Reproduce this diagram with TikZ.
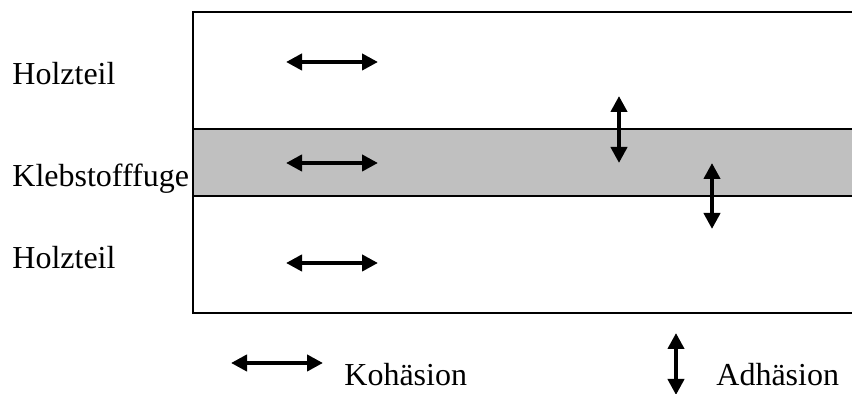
\documentclass[tikz,border=0pt]{standalone}
\usepackage{fontspec}
\setmainfont{Liberation Serif}
\usetikzlibrary{arrows.meta}
\definecolor{fugegray}{HTML}{C0C0C0}

\begin{document}
\begin{tikzpicture}[
  x=0.5pt, y=-0.5pt,
  lbl/.style={anchor=base west, inner sep=0pt, font=\fontsize{16}{19}\selectfont},
  frame/.style={line width=1pt, black},
  arr/.style={{Triangle[length=8pt,width=8pt]}-{Triangle[length=8pt,width=8pt]}, line width=2.4pt}]
  \useasboundingbox (0,0) rectangle (852,394);
  % Klebstofffuge band and wood parts
  \fill[fugegray] (193,129) rectangle (852,196);
  \draw[frame] (852,12) -| (193,313) -- (852,313);
  \draw[frame] (193,129) -- (852,129);
  \draw[frame] (193,196) -- (852,196);
  % labels
  \node[lbl] (holzoben) at (12,85) {Holzteil};
  \node[lbl] (fuge) at (12,187) {Klebstofffuge};
  \node[lbl] (holzunten) at (12,269) {Holzteil};
  \node[lbl] (koh) at (344,386) {Kohäsion};
  \node[lbl] (adh) at (716,386) {Adhäsion};
  % Kohaesion arrows
  \coordinate (k1a) at (286,62);  \coordinate (k1b) at (378,62);
  \coordinate (k2a) at (286,163); \coordinate (k2b) at (378,163);
  \coordinate (k3a) at (286,263); \coordinate (k3b) at (378,263);
  \coordinate (kla) at (231,363); \coordinate (klb) at (323,363);
  \draw[arr] (k1a) -- (k1b);
  \draw[arr] (k2a) -- (k2b);
  \draw[arr] (k3a) -- (k3b);
  \draw[arr] (kla) -- (klb);
  % Adhaesion arrows
  \coordinate (a1a) at (619,96);  \coordinate (a1b) at (619,163);
  \coordinate (a2a) at (712,163); \coordinate (a2b) at (712,229);
  \coordinate (ala) at (676,333); \coordinate (alb) at (676,395);
  \draw[arr] (a1a) -- (a1b);
  \draw[arr] (a2a) -- (a2b);
  \draw[arr] (ala) -- (alb);
\end{tikzpicture}
\end{document}
